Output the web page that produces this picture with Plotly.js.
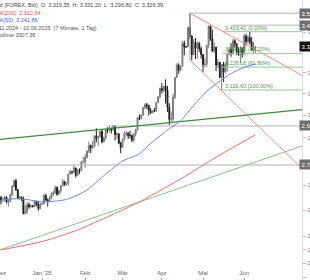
<!DOCTYPE html>
<html><head><meta charset="utf-8">
<script src="https://cdn.plot.ly/plotly-3.0.1.min.js"></script>
<style>html,body{margin:0;padding:0;background:#fff;}#chart{width:310px;height:280px;}</style>
</head><body><div id="chart"></div>
<script>
// ---- Daily candles (Gold, FOREX Bid) ----
const dates = [
'2024-12-02','2024-12-03','2024-12-04','2024-12-05','2024-12-06','2024-12-09','2024-12-10','2024-12-11','2024-12-12','2024-12-13','2024-12-16','2024-12-17','2024-12-18','2024-12-19','2024-12-20','2024-12-23','2024-12-24','2024-12-25','2024-12-26','2024-12-27','2024-12-30','2024-12-31',
'2025-01-01','2025-01-02','2025-01-03','2025-01-06','2025-01-07','2025-01-08','2025-01-09','2025-01-10','2025-01-13','2025-01-14','2025-01-15','2025-01-16','2025-01-17','2025-01-20','2025-01-21','2025-01-22','2025-01-23','2025-01-24','2025-01-27','2025-01-28','2025-01-29','2025-01-30','2025-01-31',
'2025-02-03','2025-02-04','2025-02-05','2025-02-06','2025-02-07','2025-02-10','2025-02-11','2025-02-12','2025-02-13','2025-02-14','2025-02-17','2025-02-18','2025-02-19','2025-02-20','2025-02-21','2025-02-24','2025-02-25','2025-02-26','2025-02-27','2025-02-28',
'2025-03-03','2025-03-04','2025-03-05','2025-03-06','2025-03-07','2025-03-10','2025-03-11','2025-03-12','2025-03-13','2025-03-14','2025-03-17','2025-03-18','2025-03-19','2025-03-20','2025-03-21','2025-03-24','2025-03-25','2025-03-26','2025-03-27','2025-03-28','2025-03-31',
'2025-04-01','2025-04-02','2025-04-03','2025-04-04','2025-04-07','2025-04-08','2025-04-09','2025-04-10','2025-04-11','2025-04-14','2025-04-15','2025-04-16','2025-04-17','2025-04-18','2025-04-21','2025-04-22','2025-04-23','2025-04-24','2025-04-25','2025-04-28','2025-04-29','2025-04-30',
'2025-05-01','2025-05-02','2025-05-05','2025-05-06','2025-05-07','2025-05-08','2025-05-09','2025-05-12','2025-05-13','2025-05-14','2025-05-15','2025-05-16','2025-05-19','2025-05-20','2025-05-21','2025-05-22','2025-05-23','2025-05-26','2025-05-27','2025-05-28','2025-05-29','2025-05-30',
'2025-06-02','2025-06-03','2025-06-04','2025-06-05','2025-06-06','2025-06-09','2025-06-10'];
const open = [
2650,2640,2643,2650,2632,2633,2660,2694,2718,2681,2648,2652,2646,2586,2594,2622,2612,2617,2613,2634,2621,2606,
2624,2625,2658,2640,2636,2648,2662,2670,2690,2663,2677,2697,2715,2702,2708,2745,2755,2754,2770,2740,2763,2760,2795,
2798,2815,2842,2866,2856,2861,2908,2898,2904,2928,2882,2899,2935,2933,2939,2936,2951,2914,2916,2876,
2858,2893,2918,2920,2910,2910,2889,2916,2934,2988,2984,3001,3035,3048,3044,3022,3011,3020,3019,3057,3085,
3124,3114,3134,3114,3038,2982,2983,3083,3176,3237,3211,3230,3343,3327,3327,3424,3381,3288,3349,3319,3344,3317,
3288,3239,3241,3334,3431,3366,3306,3325,3236,3249,3177,3240,3202,3230,3290,3314,3295,3357,3342,3300,3288,3318,
3289,3381,3353,3374,3352,3310,3319.55];
const high = [
2656,2650,2657,2656,2644,2666,2700,2721,2726,2684,2657,2654,2653,2619,2633,2629,2622,2620,2639,2637,2635,2628,
2630,2663,2665,2646,2656,2670,2675,2698,2695,2681,2700,2724,2716,2711,2746,2763,2758,2786,2772,2765,2769,2799,2817,
2830,2845,2882,2870,2886,2911,2942,2910,2930,2938,2905,2938,2947,2955,2945,2956,2952,2925,2920,2882,
2895,2928,2930,2925,2930,2914,2921,2940,2990,3005,3002,3038,3055,3057,3048,3034,3024,3033,3059,3087,3128,
3149,3135,3167,3136,3055,3017,3099,3176,3245,3245,3233,3357,3358,3330,3430,3500,3386,3367,3371,3352,3350,3328,
3290,3269,3337,3437,3435,3414,3348,3327,3266,3252,3240,3252,3250,3296,3325,3345,3366,3365,3345,3325,3330,3325,
3392,3392,3385,3403.41,3376,3349,3331.20];
const low = [
2622,2630,2634,2625,2614,2630,2655,2690,2676,2643,2640,2636,2583,2583,2585,2605,2610,2611,2612,2616,2597,2603,
2620,2622,2635,2614,2630,2643,2656,2664,2656,2660,2666,2694,2697,2697,2698,2742,2744,2751,2730,2738,2746,2756,2790,
2772,2810,2834,2833,2852,2859,2880,2864,2903,2876,2880,2891,2920,2925,2918,2930,2889,2895,2873,2833,
2857,2886,2905,2894,2898,2880,2880,2906,2930,2978,2982,2998,3027,3028,2999,3005,3010,3014,3015,3056,3076,
3100,3105,3054,3015,2957,2970,2973,3073,3175,3194,3205,3228,3284,3320,3326,3367,3260,3284,3266,3268,3300,3268,
3202,3224,3227,3320,3357,3300,3295,3207,3222,3172,3116.60,3155,3198,3205,3285,3277,3287,3324,3286,3281,3245,3271,
3289,3333,3343,3339,3307,3293,3296.80];
const close = [
2640,2643,2650,2632,2633,2660,2694,2718,2681,2648,2652,2646,2586,2594,2622,2612,2617,2613,2634,2621,2606,2624,
2625,2658,2640,2636,2648,2662,2670,2690,2663,2677,2697,2715,2702,2708,2745,2755,2754,2770,2740,2763,2760,2795,2798,
2815,2842,2866,2856,2861,2908,2898,2904,2928,2882,2899,2935,2933,2939,2936,2951,2914,2916,2876,2858,
2893,2918,2920,2910,2910,2889,2916,2934,2988,2984,3001,3035,3048,3044,3022,3011,3020,3019,3057,3085,3124,
3114,3134,3114,3038,2982,2983,3083,3176,3237,3211,3230,3343,3327,3327,3424,3381,3288,3349,3319,3344,3317,3288,
3239,3241,3334,3431,3366,3306,3325,3236,3249,3177,3240,3202,3230,3290,3314,3295,3357,3342,3300,3288,3318,3289,
3381,3353,3374,3352,3310,3325,3326.39];

// ---- Moving averages ----
const ma50Dates = ['2024-12-02','2024-12-16','2025-01-02','2025-01-20','2025-02-03','2025-02-18','2025-03-03','2025-03-14','2025-03-24','2025-04-07','2025-04-15','2025-04-24','2025-05-05','2025-05-15','2025-05-23','2025-06-02','2025-06-10'];
const ma50 = [2640,2645,2632,2642,2675,2745,2800,2830,2875,2940,2975,3045,3110,3165,3200,3225,3241.86];
const ma200Dates = ['2024-12-02','2025-01-02','2025-01-28','2025-03-03','2025-03-18','2025-03-31','2025-04-16','2025-05-12','2025-06-10'];
const ma200 = [2448,2481,2523,2600,2640,2677,2729,2816,2912.64];

// ---- Drawn lines (date, price) ----
const viewStart = '2024-11-29 12:00', viewEnd = '2025-07-14 22:00';
const trendGreen = {x:[viewStart, viewEnd], y:[2893, 3026]};
const trendLightGreen = {x:[viewStart, viewEnd], y:[2448, 2864]};
const channelUpper = {x:['2025-04-22', viewEnd], y:[3500, 3186]};
const channelLower = {x:['2025-04-22', viewEnd], y:[3261, 2768]};
const channelEdge = {x:['2025-04-22','2025-04-22'], y:[3500, 3261]};
const hLines = [ // gray horizontals: start date, price, badge text
  {start:'2025-04-22', price:3500, badge:'3.500,05'},
  {start:'2025-05-22', price:3437, badge:'3.437,15'},
  {start:'2025-02-21', price:2952, badge:'2.952,00'},
  {start:viewStart, price:2783, badge:'2.783,10'}
];
const fibStart = '2025-05-15';
const fibPrices = [3403.41, 3293.85, 3226.16, 3116.60];
const fibLabels = ['3.403,41 (0.00%)','3.293,85 (38.20%)','3.226,16 (61.80%)','3.116,60 (100.00%)'];
const lastPrice = 3326.39, lastBadge = '3.326,39';

const yTicks = [2350,2400,2450,2500,2600,2700,2900,3000,3100,3200,3400];
const yTickText = ['2.350,00','2.400,00','2.450,00','2.500,00','2.600,00','2.700,00','2.900,00','3.000,00','3.100,00','3.200,00','3.400,00'];
const xTicks = ['2024-12-02','2025-01-01','2025-02-03','2025-03-03','2025-04-01','2025-05-01','2025-06-02'];
const xTickText = ['Dez',"Jan '25",'Feb','Mär','Apr','Mai','Jun'];

const FONT = 'Liberation Sans, Arial, sans-serif';
const PW = 302, PH = 280;
function line(obj, color, width){return {type:'scatter',mode:'lines',x:obj.x,y:obj.y,line:{color:color,width:width},hoverinfo:'skip',showlegend:false};}

const traces = [];
traces.push(line(trendLightGreen,'#86c486',1));
hLines.forEach(h=>traces.push(line({x:[h.start,viewEnd],y:[h.price,h.price]},'#b4b4b4',1)));
traces.push(line(channelEdge,'#a8a8a8',1));
fibPrices.forEach(p=>traces.push(line({x:[fibStart,viewEnd],y:[p,p]},'#94c994',1)));
traces.push(line(channelUpper,'#f08a8a',1));
traces.push(line(channelLower,'#f08a8a',1));
traces.push(line(trendGreen,'#3c8c3c',1.3));
traces.push({type:'scatter',mode:'lines',x:ma200Dates,y:ma200,line:{color:'#f26a6a',width:1,shape:'spline',smoothing:0.6},hoverinfo:'skip',showlegend:false});
traces.push({type:'scatter',mode:'lines',x:ma50Dates,y:ma50,line:{color:'#6f82f2',width:1,shape:'spline',smoothing:0.6},hoverinfo:'skip',showlegend:false});
traces.push({type:'candlestick',x:dates,open:open,high:high,low:low,close:close,whiskerwidth:0,
  increasing:{line:{color:'#7a7a7a',width:1},fillcolor:'#9c9c9c'},
  decreasing:{line:{color:'#1e1e1e',width:1},fillcolor:'#1e1e1e'},hoverinfo:'skip',showlegend:false});

const ann = [];
const legendLines = [
  {text:'Gold (FOREX, Bid)  O: 3.319,55  H: 3.331,20  L: 3.296,80  C: 3.326,39', color:'#444', px:-10, py:5},
  {text:'MA(200)  2.912,64', color:'#e84a4a', px:-6.5, py:13},
  {text:'MA(50)  3.241,86', color:'#4458e8', px:-6.5, py:20.5},
  {text:'01.11.2024 - 10.06.2025  (7 Monate, 1 Tag)', color:'#555', px:-10.5, py:27.7},
  {text:'Trendlinie 3307.38', color:'#555', px:-11.3, py:34.7}
];
legendLines.forEach(l=>ann.push({xref:'paper',yref:'paper',x:l.px/PW,y:1-l.py/PH,xanchor:'left',yanchor:'middle',text:l.text,showarrow:false,font:{family:FONT,size:5.5,color:l.color},borderpad:0}));
fibPrices.forEach((p,i)=>ann.push({xref:'x',yref:'y',x:'2025-05-16',y:Math.log10(p),xanchor:'left',yanchor:'bottom',text:fibLabels[i],showarrow:false,font:{family:FONT,size:5.5,color:'#4f914f'},borderpad:0,yshift:0}));
function badge(price,text,bg){ann.push({xref:'paper',yref:'y',x:1,y:Math.log10(price),xanchor:'left',yanchor:'middle',xshift:-3,text:text,showarrow:false,font:{family:FONT,size:6,color:'#fff'},bgcolor:bg,borderpad:1.5});}
hLines.forEach(h=>badge(h.price,h.badge,'#6e6e6e'));
badge(lastPrice,lastBadge,'#111');

const layout = {
  width:310,height:280,margin:{l:0,r:8,t:0,b:0},paper_bgcolor:'#fff',plot_bgcolor:'#fff',
  font:{family:FONT,size:6,color:'#777'},showlegend:false,
  xaxis:{type:'date',range:[viewStart,viewEnd],rangebreaks:[{bounds:['sat','mon']}],rangeslider:{visible:false},
    tickvals:xTicks,ticktext:xTickText,ticklabelposition:'inside',ticklabeloverflow:'allow',ticks:'inside',ticklen:2,tickcolor:'#999',
    tickfont:{family:FONT,size:6,color:'#666'},showgrid:false,zeroline:false,showline:false,fixedrange:true,automargin:false},
  yaxis:{type:'log',side:'right',range:[Math.log10(2339.4),Math.log10(3570.2)],tickvals:yTicks,ticktext:yTickText,
    ticks:'outside',ticklen:3,tickcolor:'#bbb',tickfont:{family:FONT,size:6,color:'#888'},showgrid:false,zeroline:false,
    showline:true,linecolor:'#dcdcdc',linewidth:1,fixedrange:true,automargin:false},
  annotations:ann
};
Plotly.newPlot('chart',traces,layout,{staticPlot:true,displayModeBar:false});
</script></body></html>
